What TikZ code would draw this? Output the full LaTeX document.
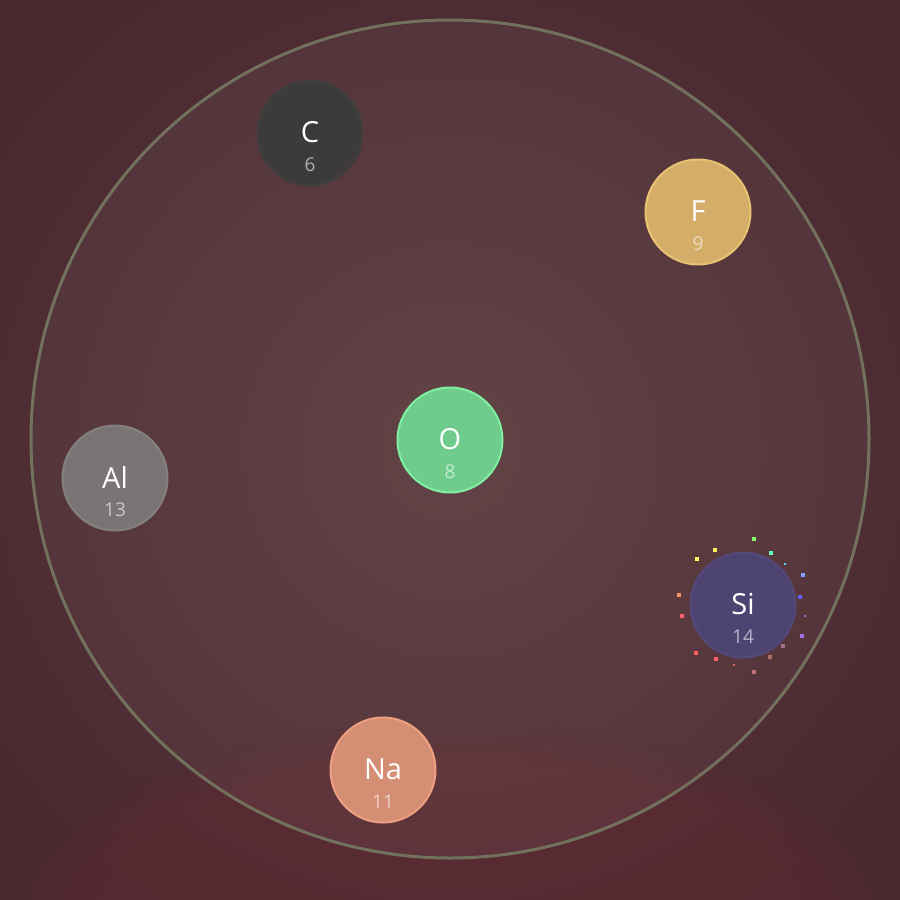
\documentclass[tikz,border=0pt]{standalone}
\usepackage{fontspec}
\setmainfont{Open Sans}
\usetikzlibrary{fadings}
\definecolor{bgout}{HTML}{4A2830}
\definecolor{bgin}{HTML}{5C3C3F}
\definecolor{glow}{HTML}{652A33}
\definecolor{ring}{HTML}{71715C}
\tikzset{
  elem/.style={circle, minimum size=105pt, inner sep=0pt, line width=2pt},
  sym/.style={text=white, font=\fontsize{29}{31}\selectfont},
  num/.style={text=white, text opacity=0.6, font=\fontsize{19}{21}\selectfont},
  spark/.style={minimum size=3.5pt, inner sep=0pt, rectangle}
}
\begin{document}
\begin{tikzpicture}[x=1pt,y=-1pt]
\useasboundingbox (0,0) rectangle (900,900);
\shade[inner color=bgin, outer color=bgout] (-100,-100) rectangle (1000,1000);
\fill[glow, path fading=circle with fuzzy edge 20 percent, fill opacity=0.45] (450,920) ellipse (440 and 200);
\draw[ring, line width=3pt, fill=white, fill opacity=0.04] (450,439) circle (419);
% elements
\node[elem, fill={rgb,255:red,60;green,58;blue,58}, draw={rgb,255:red,66;green,62;blue,62}] (C) at (310,133) {};
\node[elem, fill={rgb,255:red,212;green,174;blue,104}, draw={rgb,255:red,232;green,194;blue,112}] (F) at (698,212) {};
\node[elem, fill={rgb,255:red,111;green,204;blue,141}, draw={rgb,255:red,126;green,240;blue,160}] (O) at (450,440) {};
\node[elem, fill={rgb,255:red,122;green,116;blue,116}, draw={rgb,255:red,133;green,128;blue,128}] (Al) at (115,478) {};
\node[elem, fill={rgb,255:red,78;green,68;blue,114}, draw={rgb,255:red,84;green,73;blue,122}] (Si) at (743,605) {};
\node[elem, fill={rgb,255:red,212;green,142;blue,115}, draw={rgb,255:red,236;green,160;blue,128}] (Na) at (383,770) {};
% labels
\foreach \n/\s/\z in {C/C/6, F/F/9, O/O/8, Al/Al/13, Si/Si/14, Na/Na/11}{
  \node[sym] (\n-s) at ([yshift=1pt]\n.center) {\s};
  \node[num] (\n-z) at ([yshift=-32pt]\n.center) {\z};
}
% sparkles around Si
\foreach \x/\y/\c in {754/539/80FF60, 715/550/FFEE60, 771/553/60FFC0, 697/559/FFFF60, 803/575/80A0FF, 800/597/6060FF, 679/595/FF9060, 682/616/FF6070, 802/636/A070E0, 783/646/A07090, 696/653/FF6060, 716/659/FF6070, 770/657/B07070, 754/672/C07070}{
  \definecolor{sc}{HTML}{\c}
  \node[spark, fill=sc] (sp-\x-\y) at (\x,\y) {};
}
\foreach \x/\y/\c in {785/564/60D0FF, 805/616/A070E0, 734/665/E06060}{
  \definecolor{sc}{HTML}{\c}
  \node[spark, minimum size=1.5pt, fill=sc] (sq-\x-\y) at (\x,\y) {};
}
\end{tikzpicture}
\end{document}
